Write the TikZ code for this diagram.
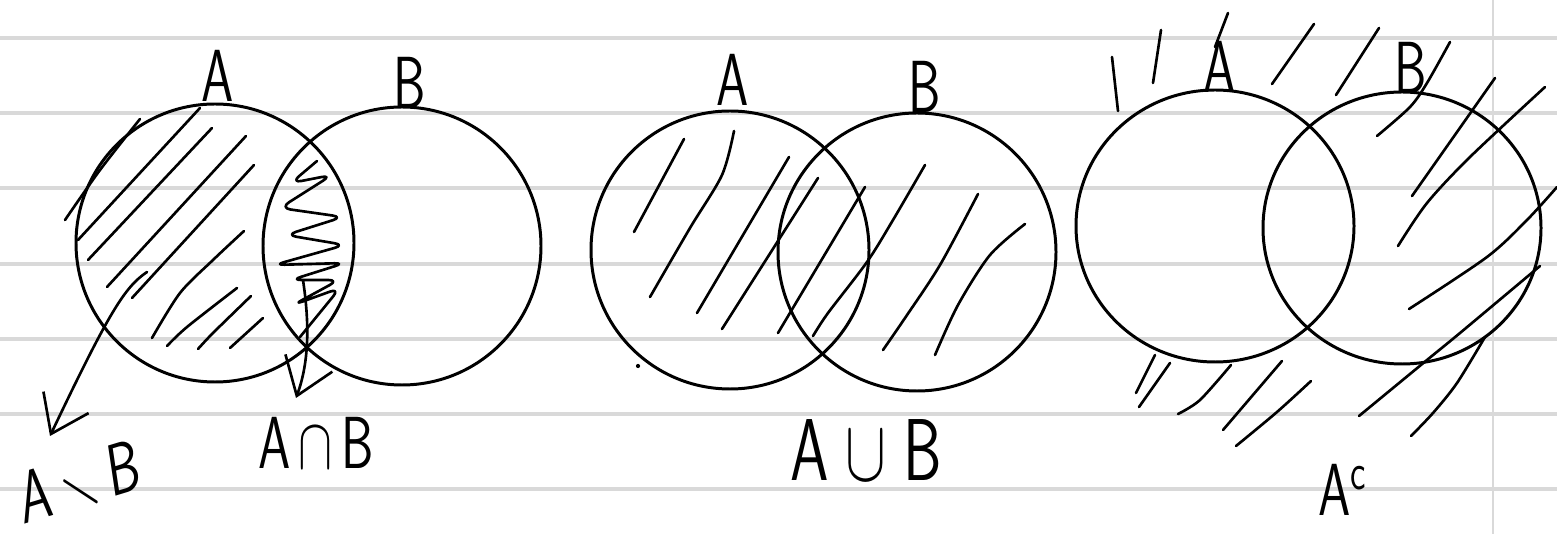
\documentclass[tikz,border=0pt]{standalone}
\usepackage{amssymb}
\usetikzlibrary{arrows.meta}
\begin{document}
\begin{tikzpicture}[x=0.1mm,y=-0.1mm,line cap=round,line join=round,
    paperline/.style={line width=1.1pt,color=black!15},
    ring/.style={line width=0.85pt},
    hatch/.style={line width=0.75pt},
    hand/.style={inner sep=0pt,xscale=0.7,font=\sffamily\fontsize{21}{23}\selectfont},
    handarrow/.style={hatch,-{Straight Barb[length=3.5mm,width=5mm,line width=0.75pt]}}]
\useasboundingbox (0,0) rectangle (1557,534);
% lined paper
\foreach \y in {38,113,188,264,339,414,489}
{
    \draw[paperline] (0,\y)--(1557,\y);
}
\draw[paperline,line width=0.6pt] (1493,0)--(1493,534);

% circles
\draw[ring] (215,243) circle [radius=139];
\draw[ring] (402,246) circle [radius=139];
\draw[ring] (730,250) circle [radius=139];
\draw[ring] (917,252) circle [radius=139];
\draw[ring] (1215,226) ellipse [x radius=139,y radius=136];
\draw[ring] (1402,228) ellipse [x radius=139,y radius=136];

% A minus B
\draw[hatch] plot[smooth] coordinates {(65,220) (100,170) (140,119)};
\foreach \xa/\ya/\xb/\yb in {
    78/240/200/108,
    88/260/212/128,
    107/287/246/136,
    132/298/254/165,
    230/348/263/318
}
{
    \draw[hatch] (\xa,\ya)--(\xb,\yb);
}
\draw[hatch] plot[smooth] coordinates {(152,338) (180,293) (213,260) (244,231)};
\draw[hatch] plot[smooth] coordinates {(167,346) (187,327) (237,288)};
\draw[hatch] plot[smooth] coordinates {(198,349) (213,333) (251,296)};
% A cap B
\draw[hatch,rounded corners=3pt] (317,161)--(291,183)--(332,175)--(280,208)--(343,217)
    --(286,235)--(345,245)--(274,265)--(345,263)--(291,280)--(339,280)--(293,305)
    --(340,288)--(300,337);

\node[hand] (labelA1) at (218,76) {A};
\node[hand] (labelB1) at (410,83) {B};
\node[hand,rotate=12] (labeldiff) at (80,484) {A\,$\smallsetminus$\,B};
\node[hand] (labelcap) at (316,443) {A$\,\cap\,$B};

\coordinate (diffsrc) at (147,272);
\coordinate (difftip) at (50,436);
\coordinate (capsrc) at (303,280);
\coordinate (captip) at (296,398);
\draw[handarrow] (diffsrc) .. controls (125,287) and (110,310) .. (difftip);
\draw[handarrow] (capsrc) .. controls (309,320) and (310,360) .. (captip);

% A cup B
\foreach \xa/\ya/\xb/\yb in {
    684/139/634/232,
    789/157/697/313,
    818/178/722/329,
    865/187/778/333
}
{
    \draw[hatch] (\xa,\ya)--(\xb,\yb);
}
\draw[hatch] plot[smooth] coordinates {(734,131) (722,175) (690,228) (650,297)};
\draw[hatch] plot[smooth] coordinates {(925,165) (893,220) (867,262) (828,313) (813,336)};
\draw[hatch] plot[smooth] coordinates {(978,194) (940,265) (905,318) (883,350)};
\draw[hatch] plot[smooth] coordinates {(1025,224) (990,255) (958,305) (935,355)};
\fill (638,366) circle (0.6pt);

\node[hand] (labelA2) at (733,80) {A};
\node[hand] (labelB2) at (925,87) {B};
\node[hand,font=\sffamily\fontsize{25}{27}\selectfont] (labelcup) at (866,450) {A$\;\cup\;$B};

% complement of A
\foreach \xa/\ya/\xb/\yb in {
    1112/57/1118/111,
    1161/30/1153/83,
    1228/13/1215/47,
    1314/24/1272/84,
    1379/28/1336/95,
    1495/78/1412/196,
    1155/355/1136/393,
    1170/363/1139/407,
    1282/361/1223/430
}
{
    \draw[hatch] (\xa,\ya)--(\xb,\yb);
}
\draw[hatch] plot[smooth] coordinates {(1450,42) (1427,83) (1410,107) (1377,136)};
\draw[hatch] plot[smooth] coordinates {(1545,87) (1470,157) (1427,203) (1398,246)};
\draw[hatch] plot[smooth] coordinates {(1557,187) (1527,220) (1487,257) (1409,309)};
\draw[hatch] plot[smooth] coordinates {(1540,266) (1460,333) (1427,360) (1359,416)};
\draw[hatch] plot[smooth] coordinates {(1485,337) (1457,383) (1433,413) (1411,436)};
\draw[hatch] plot[smooth] coordinates {(1231,365) (1200,400) (1178,414)};
\draw[hatch] plot[smooth] coordinates {(1311,381) (1277,412) (1236,446)};

\node[hand] (labelA3) at (1220,67) {A};
\node[hand] (labelB3) at (1411,68) {B};
\node[hand] (labelcomp) at (1343,490) {A$^{\mathsf{c}}$};
\end{tikzpicture}
\end{document}
